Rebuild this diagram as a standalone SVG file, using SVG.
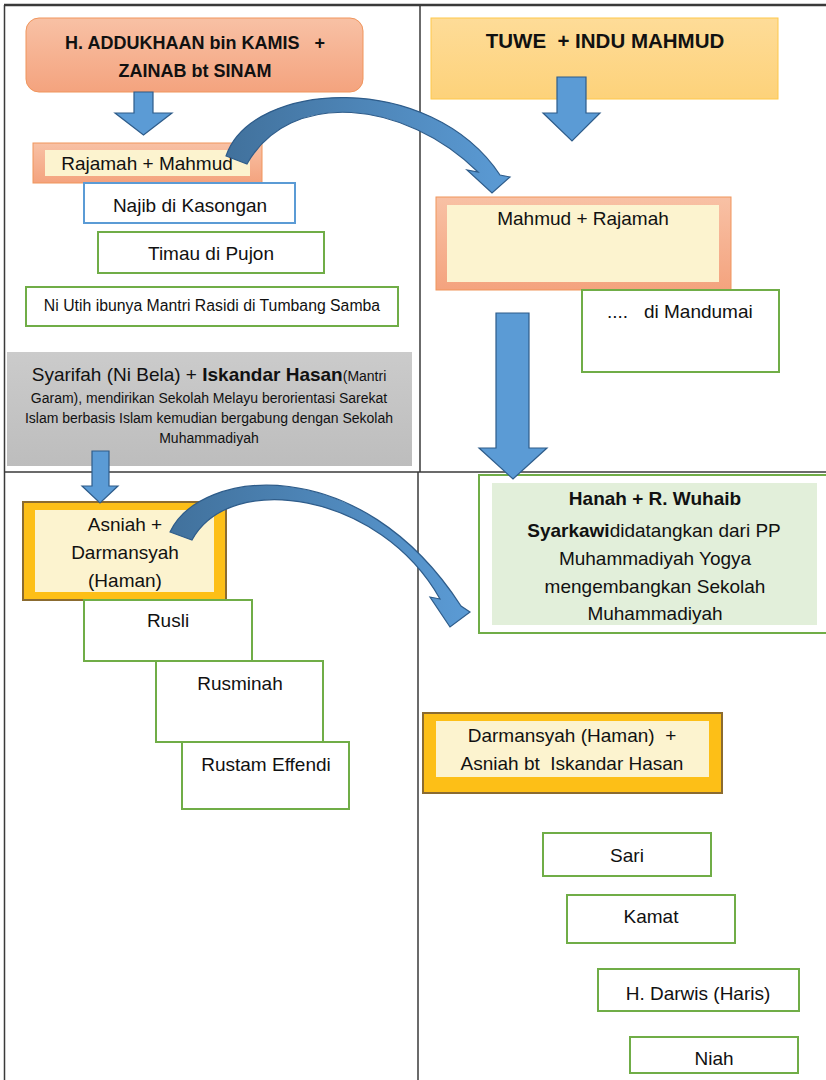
<svg xmlns="http://www.w3.org/2000/svg" width="826" height="1080" viewBox="0 0 826 1080">
<defs>
<linearGradient id="salmon" x1="0" y1="0" x2="0" y2="1"><stop offset="0" stop-color="#f8c1a5"/><stop offset="1" stop-color="#f4a37e"/></linearGradient>
<linearGradient id="gold" x1="0" y1="0" x2="0" y2="1"><stop offset="0" stop-color="#fedc98"/><stop offset="1" stop-color="#fdd27a"/></linearGradient>
<linearGradient id="grey" x1="0" y1="0" x2="0" y2="1"><stop offset="0" stop-color="#cbcbcb"/><stop offset="1" stop-color="#bdbdbd"/></linearGradient>
<linearGradient id="curve1" gradientUnits="userSpaceOnUse" x1="226" y1="0" x2="510" y2="0"><stop offset="0" stop-color="#41719c"/><stop offset="1" stop-color="#5b9bd5"/></linearGradient>
<linearGradient id="curve2" gradientUnits="userSpaceOnUse" x1="170" y1="0" x2="470" y2="0"><stop offset="0" stop-color="#41719c"/><stop offset="1" stop-color="#5b9bd5"/></linearGradient>
</defs>
<style>
text{font-family:"Liberation Sans",Arial,sans-serif;fill:#111;white-space:pre}
.m{text-anchor:middle}
.b{font-weight:bold}
.f19{font-size:19px}
.green{fill:#fff;stroke:#70ad47;stroke-width:2}
.blue{fill:#fff;stroke:#5b9bd5;stroke-width:2}
.salmon{fill:url(#salmon);stroke:#f0955c;stroke-width:1}
.cream{fill:#fcf3cf}
.goldbox{fill:#fdbf17;stroke:#8b6b30;stroke-width:2}
.arrow{fill:#5b9bd5;stroke:#2e5c8a;stroke-width:1.2}
.grid{stroke:#3a3a3a;stroke-width:1.5;fill:none}
</style>

<g id="table">
<line class="grid" x1="4" y1="5" x2="826" y2="5" style="stroke-width:2.5"/>
<line class="grid" x1="4.5" y1="5" x2="4.5" y2="1080"/>
<line class="grid" x1="420" y1="5" x2="420" y2="472"/>
<line class="grid" x1="4" y1="472" x2="826" y2="472"/>
<line class="grid" x1="418" y1="472" x2="418" y2="1080"/>
</g>

<g id="n-addukhaan">
<rect x="26" y="18" width="337" height="74" rx="13" class="salmon"/>
<text x="195" y="49" class="m b" font-size="18">H. ADDUKHAAN bin KAMIS   +</text>
<text x="195" y="77" class="m b" font-size="18">ZAINAB bt SINAM</text>
</g>

<g id="n-tuwe">
<rect x="431" y="18" width="347" height="81" fill="url(#gold)" stroke="#fec84a" stroke-width="1"/>
<text x="605" y="48" class="m b" font-size="20.5">TUWE  + INDU MAHMUD</text>
</g>

<g id="n-rajamah">
<rect x="33" y="143" width="229" height="40" class="salmon"/>
<rect x="45" y="150" width="205" height="26" class="cream"/>
<text x="147" y="170" class="m f19">Rajamah + Mahmud</text>
</g>

<g id="n-najib">
<rect x="84" y="183" width="211" height="40" class="blue"/>
<text x="190" y="212" class="m f19">Najib di Kasongan</text>
</g>

<g id="n-timau">
<rect x="98" y="232" width="226" height="41" class="green"/>
<text x="211" y="260" class="m f19">Timau di Pujon</text>
</g>

<g id="n-niutih">
<rect x="26" y="287" width="372" height="39" class="green"/>
<text x="212" y="311" class="m" font-size="15.8">Ni Utih ibunya Mantri Rasidi di Tumbang Samba</text>
</g>

<g id="n-syarifah">
<rect x="7" y="352" width="405" height="114" fill="url(#grey)"/>
<text x="209" y="381" class="m f19">Syarifah (Ni Bela) + <tspan class="b">Iskandar Hasan</tspan><tspan font-size="14">(Mantri</tspan></text>
<text x="209" y="403" class="m" font-size="14">Garam), mendirikan Sekolah Melayu berorientasi Sarekat</text>
<text x="209" y="423" class="m" font-size="14">Islam berbasis Islam kemudian bergabung dengan Sekolah</text>
<text x="209" y="443" class="m" font-size="14">Muhammadiyah</text>
</g>

<g id="n-mahmud">
<rect x="436" y="197" width="295" height="93" class="salmon"/>
<rect x="447" y="205" width="272" height="77" class="cream"/>
<text x="583" y="225" class="m f19">Mahmud + Rajamah</text>
</g>

<g id="n-mandumai">
<rect x="582" y="290" width="197" height="82" class="green"/>
<text x="607" y="318" class="f19">....   di Mandumai</text>
</g>

<g id="n-asniah">
<rect x="23" y="502" width="203" height="98" class="goldbox"/>
<rect x="35" y="510" width="179" height="82" class="cream"/>
<text x="125" y="531" class="m f19">Asniah +</text>
<text x="125" y="559" class="m f19">Darmansyah</text>
<text x="125" y="587" class="m f19">(Haman)</text>
</g>

<g id="n-rusli">
<rect x="84" y="600" width="168" height="61" class="green"/>
<text x="168" y="627" class="m f19">Rusli</text>
</g>

<g id="n-rusminah">
<rect x="156" y="661" width="167" height="81" class="green"/>
<text x="240" y="690" class="m f19">Rusminah</text>
</g>

<g id="n-rustam">
<rect x="182" y="742" width="167" height="67" class="green"/>
<text x="266" y="771" class="m f19">Rustam Effendi</text>
</g>

<g id="n-hanah">
<rect x="479" y="475" width="350" height="158" class="green"/>
<rect x="492" y="483" width="325" height="142" fill="#e2efda"/>
<text x="655" y="505" class="m b f19">Hanah + R. Wuhaib</text>
<text x="654" y="537" class="m f19"><tspan class="b">Syarkawi</tspan>didatangkan dari PP</text>
<text x="655" y="565" class="m f19">Muhammadiyah Yogya</text>
<text x="655" y="593" class="m f19">mengembangkan Sekolah</text>
<text x="655" y="620" class="m f19">Muhammadiyah</text>
</g>

<g id="n-darmansyah">
<rect x="423" y="713" width="299" height="80" class="goldbox"/>
<rect x="436" y="721" width="273" height="56" class="cream"/>
<text x="572" y="742" class="m f19">Darmansyah (Haman)  +</text>
<text x="572" y="770" class="m f19">Asniah bt  Iskandar Hasan</text>
</g>

<g id="n-sari">
<rect x="543" y="833" width="168" height="43" class="green"/>
<text x="627" y="862" class="m f19">Sari</text>
</g>

<g id="n-kamat">
<rect x="567" y="895" width="168" height="48" class="green"/>
<text x="651" y="923" class="m f19">Kamat</text>
</g>

<g id="n-darwis">
<rect x="598" y="969" width="201" height="42" class="green"/>
<text x="698" y="1000" class="m f19">H. Darwis (Haris)</text>
</g>

<g id="n-niah">
<rect x="630" y="1037" width="168" height="36" class="green"/>
<text x="714" y="1065" class="m f19">Niah</text>
</g>

<g id="connectors">
<polygon class="arrow" points="134,92 153,92 153,113 172,113 143.5,135 115,113 134,113"/>
<polygon class="arrow" points="557,77 586,77 586,113 600,113 572,141 543,113 557,113"/>
<polygon class="arrow" points="496,313 529,313 529,448 547,448 513,479 479,448 496,448"/>
<polygon class="arrow" points="92,451 109,451 109,486 118,486 100,503 82,486 92,486"/>
<path d="M226,156 C252,80 430,70 500,175 L510,177 L492,193 L467,170 L478,172 C405,100 290,88 247,164 Z" fill="url(#curve1)" stroke="#2e5c8a" stroke-width="1.2"/>
<path d="M170,532 C200,468 360,450 461,606 L470,612 L450,627 L430,597 L440,599 C380,492 230,470 192,540 Z" fill="url(#curve2)" stroke="#2e5c8a" stroke-width="1.2"/>
</g>
</svg>
